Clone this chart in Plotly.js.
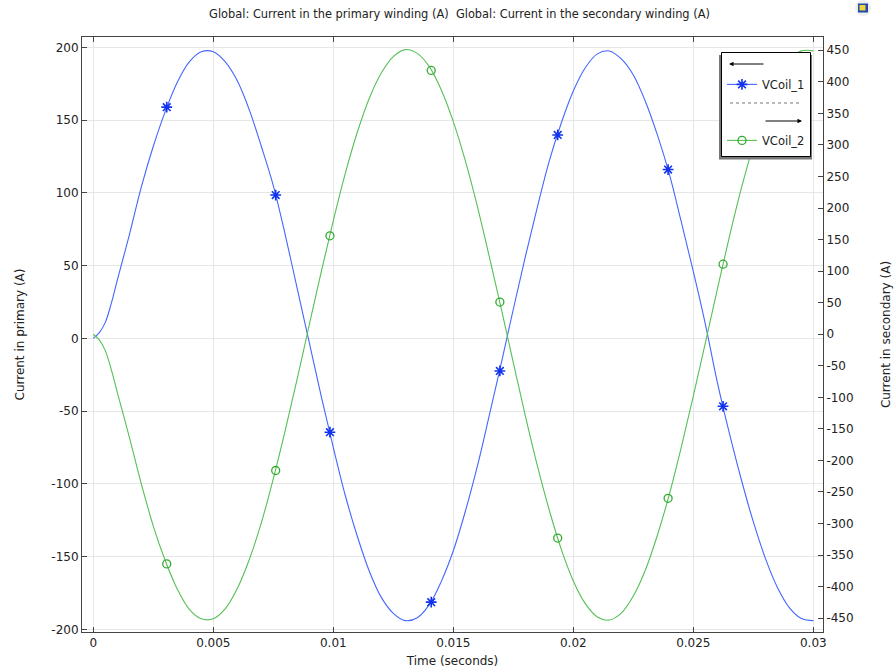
<!DOCTYPE html>
<html>
<head>
<meta charset="utf-8">
<script src="https://cdn.plot.ly/plotly-3.0.1.min.js"></script>
<style>html,body{margin:0;padding:0;background:#fff}#chart{width:894px;height:671px}</style>
</head>
<body>
<div id="chart"></div>
<script>
// ---- data ----
const time = [0,0.00025,0.0005,0.00075,0.001,0.0015,0.002,0.0025,0.003,0.0035,0.004,0.0045,0.005,0.0055,0.006,0.0065,0.007,0.0075,0.008,0.0085,0.009,0.0095,0.01,0.0105,0.011,0.0115,0.012,0.0125,0.013,0.0135,0.014,0.0145,0.015,0.0155,0.016,0.0165,0.017,0.0175,0.018,0.0185,0.019,0.0195,0.02,0.0205,0.021,0.0215,0.022,0.0225,0.023,0.0235,0.024,0.0245,0.025,0.0255,0.026,0.0265,0.027,0.0275,0.028,0.0285,0.029,0.0295,0.03];
const primaryCurrent = [0,4,11,24,40,71,104,132,156,176,190,197,197,190,177,157,132,105,71,34,-3,-40,-75,-108,-136,-160,-178,-189,-194,-192,-183,-167,-146,-119,-88,-53,-17,20,56,90,122,148,170,186,195.5,197.5,192,181,163,140,113,80,46,10,-30,-65,-97,-126,-151,-171,-185,-192.5,-194];
const secondaryCurrent = [0,-9,-26,-56,-92,-163,-237,-304,-359,-404,-436,-451,-451,-435,-403,-357,-299,-229,-152,-70,15,99,180,255,320,374,414,440,451,445,424,387,337,275,203,123,40,-45,-129,-208,-279,-341,-391,-427,-448,-453,-442,-415,-374,-319,-254,-179,-98,-14,71,154,231,299,357,402,433,449,449];
const markerTime = [0.00306,0.0076,0.00986,0.01408,0.01694,0.01935,0.02395,0.02624];
const markerPrimary = [158.9,98.5,-64.5,-181.3,-22.4,139.8,116,-46.7];
const markerSecondary = [-364,-216,156,418,51,-323,-260,111];
const seriesNames = ['VCoil_1','VCoil_2'];
const xTickVals = [0,0.005,0.01,0.015,0.02,0.025,0.03];
const xTickText = ['0','0.005','0.01','0.015','0.02','0.025','0.03'];
const yLeftTickVals = [-200,-150,-100,-50,0,50,100,150,200];
const yLeftTickText = ['-200','-150','-100','-50','0','50','100','150','200'];
const yRightTickVals = [-450,-400,-350,-300,-250,-200,-150,-100,-50,0,50,100,150,200,250,300,350,400,450];
const yRightTickText = yRightTickVals.map(v => String(v));
const chartTitle = 'Global: Current in the primary winding (A)  Global: Current in the secondary winding (A)';
const xTitle = 'Time (seconds)';
const yLeftTitle = 'Current in primary (A)';
const yRightTitle = 'Current in secondary (A)';

// ---- styles ----
const BLUE_LINE = '#4466ff', BLUE_MARK = '#1133ee';
const GREEN_LINE = '#55c055', GREEN_MARK = '#33aa33';
const FONT = 'DejaVu Sans, sans-serif';
const TXT = '#222';
const W = 894, H = 671, ML = 82, MR = 71, MT = 37, MB = 39;
const PW = W - ML - MR, PH = H - MT - MB;
const px = x => (x - ML) / PW;
const py = y => 1 - (y - MT) / PH;

const blueMarker = {symbol: 'asterisk-open', size: 9, color: BLUE_MARK, line: {color: BLUE_MARK, width: 1.6}};
const greenMarker = {symbol: 'circle-open', size: 8, color: GREEN_MARK, line: {color: GREEN_MARK, width: 1.3}};

const traces = [
  {x: time, y: primaryCurrent, type: 'scatter', mode: 'lines', line: {color: BLUE_LINE, width: 1.1, shape: 'spline', smoothing: 1}, showlegend: false, hoverinfo: 'skip'},
  {x: time, y: secondaryCurrent, yaxis: 'y2', type: 'scatter', mode: 'lines', line: {color: GREEN_LINE, width: 1.1, shape: 'spline', smoothing: 1}, showlegend: false, hoverinfo: 'skip'},
  {x: markerTime, y: markerPrimary, type: 'scatter', mode: 'markers', marker: blueMarker, showlegend: false},
  {x: markerTime, y: markerSecondary, yaxis: 'y2', type: 'scatter', mode: 'markers', marker: greenMarker, showlegend: false},
  {x: [null], y: [null], type: 'scatter', mode: 'lines+markers', name: seriesNames[0], legendgroup: 'a', line: {color: BLUE_LINE, width: 1.1}, marker: blueMarker},
  {x: [null], y: [null], yaxis: 'y2', type: 'scatter', mode: 'lines+markers', name: seriesNames[1], legendgroup: 'b', line: {color: GREEN_LINE, width: 1.1}, marker: greenMarker}
];

const axisCommon = {
  showline: true, linecolor: '#444', linewidth: 1,
  ticks: 'inside', ticklen: 5, tickwidth: 1, tickcolor: '#444',
  tickfont: {family: FONT, size: 12, color: TXT},
  zeroline: false, fixedrange: true
};

const layout = {
  width: W, height: H,
  margin: {l: ML, r: MR, t: MT, b: MB, pad: 0},
  paper_bgcolor: '#fff', plot_bgcolor: '#fff',
  font: {family: FONT, size: 12, color: TXT},
  title: {text: chartTitle, font: {family: FONT, size: 11.4, color: TXT}, x: 459.5 / W, xref: 'container', xanchor: 'center', y: 1 - 14 / H, yref: 'container', yanchor: 'middle'},
  xaxis: Object.assign({}, axisCommon, {
    range: [-0.000471, 0.030404], tickmode: 'array', tickvals: xTickVals, ticktext: xTickText,
    showgrid: true, gridcolor: '#e6e6e6', gridwidth: 1, mirror: 'ticks',
    title: {text: xTitle, font: {family: FONT, size: 12, color: TXT}, standoff: 7}
  }),
  yaxis: Object.assign({}, axisCommon, {
    range: [-201.8, 207.1], tickmode: 'array', tickvals: yLeftTickVals, ticktext: yLeftTickText,
    showgrid: true, gridcolor: '#e6e6e6', gridwidth: 1,
    title: {text: yLeftTitle, font: {family: FONT, size: 12, color: TXT}, standoff: 24}
  }),
  yaxis2: Object.assign({}, axisCommon, {
    overlaying: 'y', side: 'right', range: [-471.9, 471], tickmode: 'array', tickvals: yRightTickVals, ticktext: yRightTickText,
    showgrid: false,
    title: {text: yRightTitle, font: {family: FONT, size: 12, color: TXT}, standoff: 28}
  }),
  showlegend: true,
  legend: {
    x: px(722), y: py(53), xanchor: 'left', yanchor: 'top',
    bgcolor: 'rgba(0,0,0,0)', bordercolor: 'rgba(0,0,0,0)', borderwidth: 0,
    font: {family: FONT, size: 11.5, color: TXT},
    title: {text: ' ', font: {family: FONT, size: 13}},
    traceorder: 'grouped', tracegroupgap: 37, itemwidth: 30
  },
  shapes: [
    {type: 'rect', xref: 'paper', yref: 'paper', x0: px(719), x1: px(812), y0: py(55), y1: py(159.5), fillcolor: '#777', line: {width: 0}, layer: 'above'},
    {type: 'rect', xref: 'paper', yref: 'paper', x0: px(721.5), x1: px(810.5), y0: py(52.5), y1: py(156.5), fillcolor: '#fff', line: {color: '#000', width: 1}, layer: 'above'},
    {type: 'line', xref: 'paper', yref: 'paper', x0: px(730), x1: px(801), y0: py(103), y1: py(103), line: {color: '#777', width: 1, dash: 'dot'}, layer: 'above'},
    {type: 'circle', xref: 'paper', yref: 'paper', x0: px(855), x1: px(871), y0: py(0), y1: py(16), fillcolor: '#eeeeee', line: {width: 0}},
    {type: 'rect', xref: 'paper', yref: 'paper', x0: px(858), x1: px(868), y0: py(3.5), y1: py(12.5), fillcolor: '#1f4aa8', line: {width: 0}},
    {type: 'rect', xref: 'paper', yref: 'paper', x0: px(859.5), x1: px(865.5), y0: py(5), y1: py(10.5), fillcolor: '#f2d23a', line: {width: 0}}
  ],
  annotations: [
    {xref: 'paper', yref: 'paper', x: px(729), y: py(64), ax: 36, ay: 0, text: '', showarrow: true, arrowhead: 2, arrowsize: 0.9, arrowwidth: 1, arrowcolor: '#000'},
    {xref: 'paper', yref: 'paper', x: px(802), y: py(121), ax: -38, ay: 0, text: '', showarrow: true, arrowhead: 2, arrowsize: 0.9, arrowwidth: 1, arrowcolor: '#000'}
  ]
};

Plotly.newPlot('chart', traces, layout, {staticPlot: true, displayModeBar: false});
</script>
</body>
</html>
